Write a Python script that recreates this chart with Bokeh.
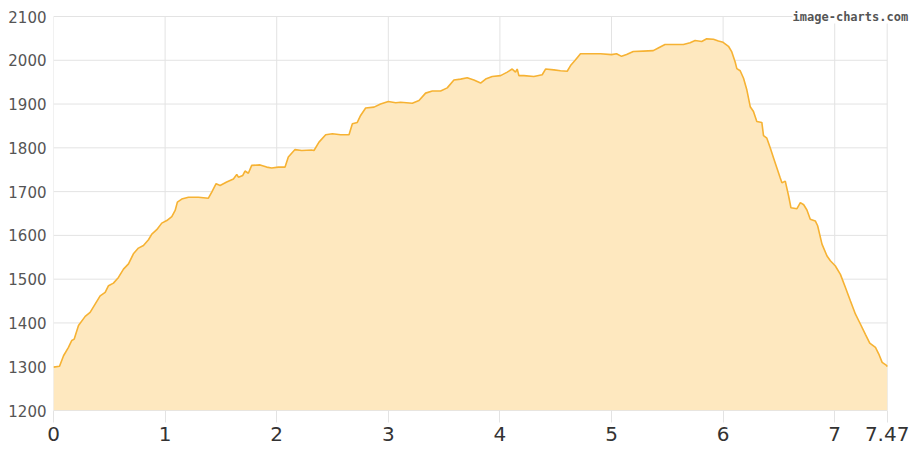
from bokeh.plotting import figure
from bokeh.models import Range1d, FixedTicker, Label
from bokeh.embed import file_html
from bokeh.resources import INLINE

distance_km = [0.0, 0.054, 0.09, 0.134, 0.164, 0.185, 0.224, 0.284, 0.328, 0.373, 0.418, 0.463,
               0.493, 0.537, 0.582, 0.627, 0.672, 0.716, 0.761, 0.806, 0.851, 0.881, 0.925, 0.97,
               1.015, 1.06, 1.09, 1.11, 1.149, 1.209, 1.299, 1.388, 1.418, 1.457, 1.493, 1.552,
               1.612, 1.642, 1.657, 1.696, 1.716, 1.746, 1.776, 1.851, 1.91, 1.955, 2.015, 2.075,
               2.104, 2.164, 2.224, 2.313, 2.334, 2.379, 2.439, 2.499, 2.573, 2.648, 2.678, 2.722,
               2.752, 2.797, 2.872, 2.931, 3.0, 3.066, 3.11, 3.215, 3.275, 3.334, 3.394, 3.469,
               3.528, 3.588, 3.648, 3.707, 3.767, 3.827, 3.872, 3.931, 4.006, 4.066, 4.11, 4.14,
               4.155, 4.17, 4.215, 4.304, 4.379, 4.409, 4.484, 4.543, 4.603, 4.633, 4.678, 4.722,
               4.812, 4.901, 5.0, 5.045, 5.09, 5.135, 5.195, 5.284, 5.374, 5.419, 5.479, 5.554,
               5.644, 5.704, 5.749, 5.808, 5.853, 5.913, 5.958, 6.0, 6.048, 6.078, 6.108, 6.123,
               6.153, 6.183, 6.213, 6.243, 6.272, 6.302, 6.347, 6.362, 6.392, 6.422, 6.452, 6.482,
               6.512, 6.527, 6.557, 6.587, 6.608, 6.662, 6.692, 6.722, 6.751, 6.781, 6.826, 6.847,
               6.886, 6.931, 6.961, 7.006, 7.051, 7.096, 7.141, 7.186, 7.231, 7.275, 7.314, 7.365,
               7.395, 7.425, 7.464, 7.47]
elevation_m = [1299, 1301, 1325, 1344, 1360, 1363, 1394, 1415, 1424, 1443, 1462, 1470,
               1485, 1491, 1504, 1523, 1535, 1558, 1571, 1577, 1590, 1603, 1613, 1628,
               1634, 1643, 1657, 1676, 1683, 1687, 1687, 1685, 1699, 1718, 1714, 1722,
               1729, 1739, 1733, 1737, 1747, 1742, 1760, 1761, 1756, 1754, 1756, 1756,
               1779, 1796, 1794, 1795, 1794, 1813, 1830, 1832, 1830, 1830, 1855, 1858,
               1874, 1891, 1893, 1900, 1906, 1903, 1904, 1902, 1908, 1925, 1930, 1930,
               1937, 1955, 1957, 1960, 1955, 1948, 1957, 1963, 1965, 1973, 1980, 1973,
               1980, 1965, 1965, 1963, 1967, 1980, 1978, 1976, 1975, 1988, 2001, 2015,
               2015, 2015, 2013, 2015, 2009, 2013, 2020, 2021, 2022, 2028, 2036, 2036,
               2036, 2040, 2045, 2043, 2049, 2048, 2044, 2041, 2032, 2019, 1996, 1981,
               1976, 1959, 1932, 1894, 1883, 1860, 1858, 1828, 1822, 1800, 1777, 1754,
               1731, 1720, 1724, 1690, 1663, 1661, 1675, 1670, 1658, 1637, 1633, 1622,
               1580, 1553, 1542, 1530, 1511, 1481, 1450, 1420, 1397, 1374, 1354, 1344,
               1329, 1310, 1303, 1300]

x_ticks = [0, 1, 2, 3, 4, 5, 6, 7, 7.47]
x_tick_labels = ["0", "1", "2", "3", "4", "5", "6", "7", "7.47"]
y_ticks = [1200, 1300, 1400, 1500, 1600, 1700, 1800, 1900, 2000, 2100]
watermark = "image-charts.com"

x_min, x_max = x_ticks[0], x_ticks[-1]
y_min, y_max = y_ticks[0], y_ticks[-1]

# frame extends a little past the data area so the watermark is not clipped
p = figure(width=916, height=452, output_backend="svg", toolbar_location=None,
           x_range=Range1d(x_min, 7.697), y_range=Range1d(y_min, 2116),
           min_border_left=53, min_border_right=4, min_border_top=9, min_border_bottom=42)
p.outline_line_color = None
p.background_fill_color = "white"
p.border_fill_color = "white"
p.xgrid.grid_line_color = None
p.ygrid.grid_line_color = None

grid_col = "#e3e3e3"
# grid lines, bounded by the data area
p.segment(x0=x_ticks, y0=[y_min] * len(x_ticks), x1=x_ticks, y1=[y_max] * len(x_ticks),
          line_color=grid_col, line_width=1)
p.segment(x0=[x_min] * len(y_ticks), y0=y_ticks, x1=[x_max] * len(y_ticks), y1=y_ticks,
          line_color=grid_col, line_width=1)

p.varea(x=distance_km, y1=y_min, y2=elevation_m, fill_color="#FEE8BF", fill_alpha=1.0)
p.line(x=distance_km, y=elevation_m, line_color="#F6B233", line_width=1.6)
p.segment(x0=[x_min], y0=[y_min], x1=[x_max], y1=[y_min], line_color="#dcdcdc", line_width=1)

p.xaxis.ticker = FixedTicker(ticks=x_ticks)
p.xaxis.major_label_overrides = {t: l for t, l in zip(x_ticks, x_tick_labels)}
p.yaxis.ticker = FixedTicker(ticks=y_ticks)
for ax in (p.xaxis, p.yaxis):
    ax.axis_line_color = None
    ax.minor_tick_line_color = None
p.yaxis.major_tick_line_color = None
p.xaxis.major_tick_line_color = grid_col
p.xaxis.major_tick_in = 0
p.xaxis.major_tick_out = 12
p.xaxis.major_label_text_font = "DejaVu Sans"
p.xaxis.major_label_text_font_size = "20px"
p.xaxis.major_label_text_color = "#333333"
p.xaxis.major_label_standoff = 4
p.yaxis.major_label_text_font = "DejaVu Sans"
p.yaxis.major_label_text_font_size = "15px"
p.yaxis.major_label_text_color = "#555555"
p.yaxis.major_label_standoff = 1

p.add_layout(Label(x=x_max, y=y_max, text=watermark, x_offset=21, text_align="right",
                   text_baseline="middle", text_font="DejaVu Sans Mono", text_font_style="bold",
                   text_font_size="12px", text_color="#555555",
                   background_fill_color="white", background_fill_alpha=1.0))

open("out.html", "w").write(file_html(p, INLINE))
